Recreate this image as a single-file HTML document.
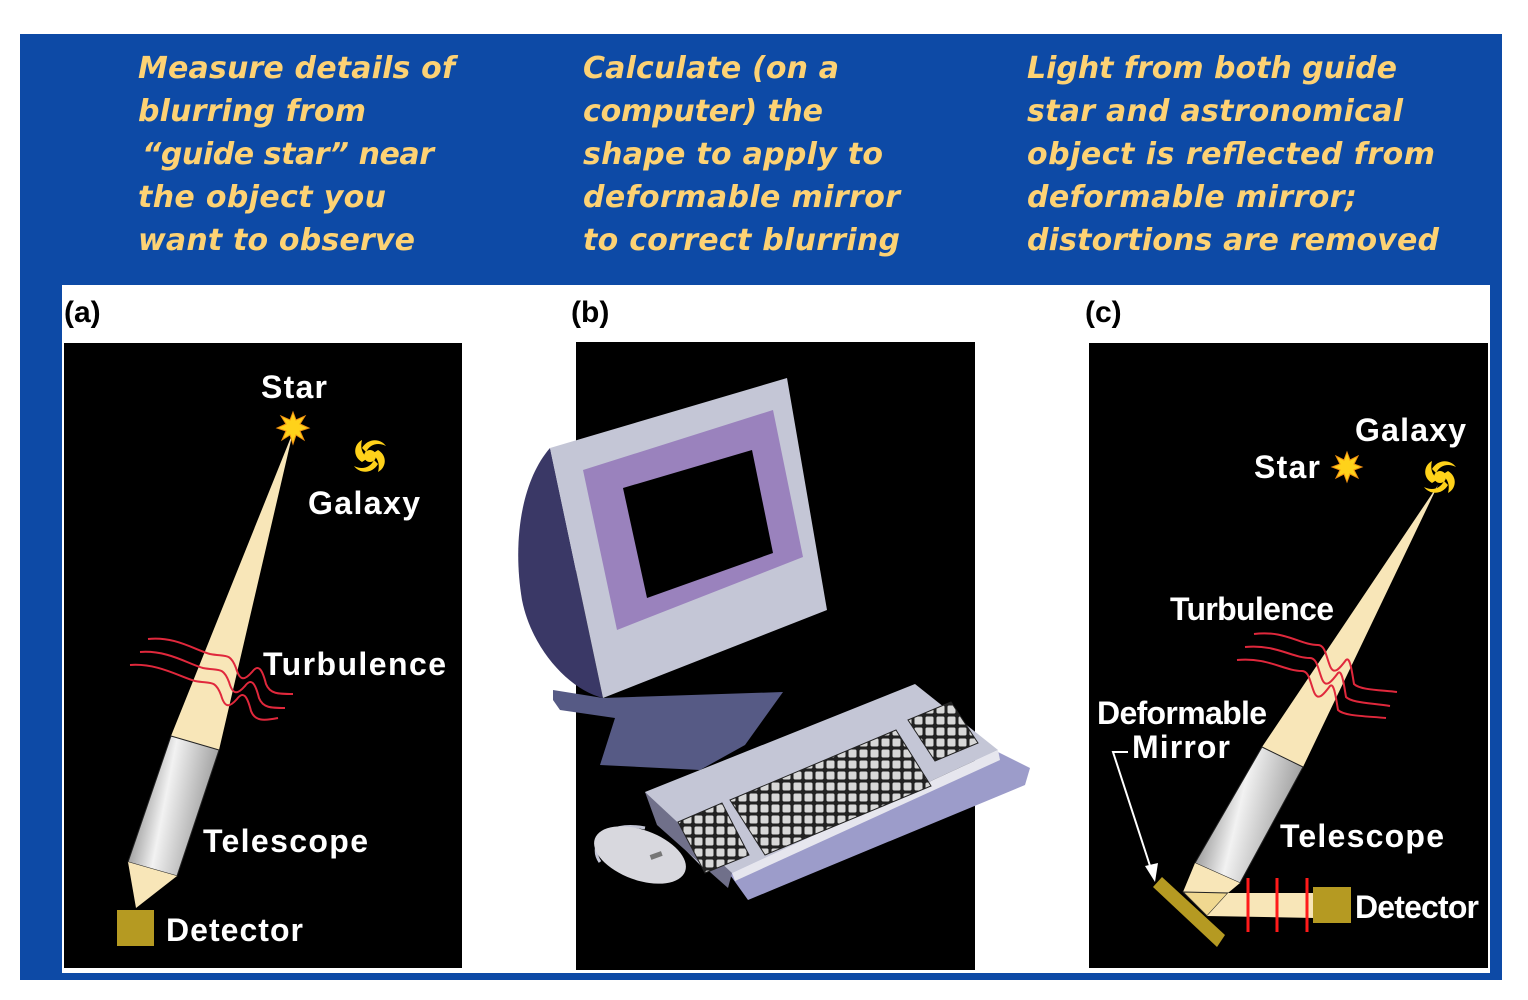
<!DOCTYPE html>
<html><head><meta charset="utf-8"><style>
html,body{margin:0;padding:0;background:#fff;width:1528px;height:1000px;overflow:hidden}
svg{display:block}
.h{font-family:"DejaVu Sans","Liberation Sans",sans-serif;font-weight:bold;font-style:italic;font-size:30px;fill:#fdd274}
.w{font-family:"Liberation Sans",Arial,sans-serif;font-weight:bold;font-size:32px;fill:#fff}
.l{font-family:"Liberation Sans",Arial,sans-serif;font-weight:bold;font-size:30px;fill:#000}
</style></head><body>
<svg width="1528" height="1000" viewBox="0 0 1528 1000" xmlns="http://www.w3.org/2000/svg">
<defs>
<linearGradient id="tube" x1="0" y1="0" x2="1" y2="0.3">
<stop offset="0" stop-color="#555"/><stop offset="0.5" stop-color="#f2f2f2"/><stop offset="1" stop-color="#999"/>
</linearGradient>
<pattern id="keys" width="11" height="11" patternUnits="userSpaceOnUse">
<rect width="11" height="11" fill="#222"/><rect x="1.5" y="1.5" width="8" height="8" rx="1.5" fill="#d8d8d8"/>
</pattern>
</defs>
<rect x="20" y="34" width="1482" height="946" fill="#0d4aa6"/>
<rect x="62" y="285" width="1428" height="688" fill="#fff"/>

<g class="h">
<text x="138" y="78" textLength="317">Measure details of</text>
<text x="138" y="121" textLength="228">blurring from</text>
<text x="142" y="164" textLength="292">“guide star” near</text>
<text x="138" y="207" textLength="248">the object you</text>
<text x="138" y="250" textLength="277">want to observe</text>
<text x="583" y="78" textLength="256">Calculate (on a</text>
<text x="583" y="121" textLength="240">computer) the</text>
<text x="583" y="164" textLength="300">shape to apply to</text>
<text x="583" y="207" textLength="317">deformable mirror</text>
<text x="583" y="250" textLength="317">to correct blurring</text>
<text x="1027" y="78" textLength="370">Light from both guide</text>
<text x="1027" y="121" textLength="376">star and astronomical</text>
<text x="1027" y="164" textLength="408">object is reflected from</text>
<text x="1027" y="207" textLength="330">deformable mirror;</text>
<text x="1027" y="250" textLength="412">distortions are removed</text>
</g>

<text class="l" x="64" y="322">(a)</text>
<text class="l" x="571" y="322">(b)</text>
<text class="l" x="1085" y="322">(c)</text>

<!-- panel a -->
<rect x="64" y="343" width="398" height="625" fill="#000"/>
<polygon points="293,432 171,736 219,750" fill="#f8e6b8"/>
<polygon points="171,736 219,750 177,876 128,862" fill="url(#tube)" stroke="#222" stroke-width="1"/>
<polygon points="128,862 177,876 136,908" fill="#f8e6b8"/>
<rect x="117" y="910" width="37" height="36" fill="#b59a22"/>
<g fill="none" stroke="#e0283c" stroke-width="2">
<path d="M148,639 C175,636 195,650 210,654 C225,657 230,652 236,668 C240,682 245,680 252,672 C258,664 262,668 266,684 C270,694 278,694 293,694"/>
<path d="M140,652 C168,650 188,664 203,668 C218,671 223,666 229,682 C233,696 238,694 245,686 C251,678 255,682 259,698 C263,708 271,708 285,708"/>
<path d="M130,665 C158,663 180,677 195,681 C210,684 215,679 221,695 C225,709 230,707 237,699 C243,691 247,695 251,711 C255,721 263,721 278,718"/>
</g>
<polygon points="293,412 296,420 305,416 300,424 309,428 300,431 304,440 296,435 293,444 290,435 282,440 286,431 277,428 286,424 281,416 290,420" fill="#ffd21a" stroke="#f09010" stroke-width="1"/>
<g fill="#ffd21a"><circle cx="370" cy="456" r="6"/>
<path d="M362,448 C368,438 380,438 386,446 C378,442 370,444 366,452Z"/><path d="M378,464 C372,474 360,474 354,466 C362,470 370,468 374,460Z"/><path d="M378,450 C388,456 386,468 378,472 C380,464 378,458 372,454Z"/><path d="M362,462 C352,456 354,444 362,440 C360,448 362,454 368,458Z"/></g>
<text class="w" x="261" y="398" textLength="66">Star</text>
<text class="w" x="308" y="514" textLength="112">Galaxy</text>
<text class="w" x="263" y="675" textLength="183">Turbulence</text>
<text class="w" x="203" y="852" textLength="165">Telescope</text>
<text class="w" x="166" y="941" textLength="137">Detector</text>

<!-- panel b -->
<rect x="576" y="342" width="399" height="628" fill="#000"/>
<polygon points="553,690 603,698 783,692 745,745 700,770 600,765 615,718 560,710 553,700" fill="#565a85"/>
<path d="M550,448 C522,480 512,540 522,600 C532,650 570,690 603,698 Z" fill="#3a3866"/>
<polygon points="550,448 787,378 827,610 603,698" fill="#c4c6d6"/>
<polygon points="583,470 773,410 803,557 617,630" fill="#9a82bd"/>
<polygon points="623,488 752,450 773,553 647,598" fill="#000"/>
<path d="M645,828 C605,820 588,845 600,862" fill="none" stroke="#c4c6d6" stroke-width="3"/>
<polygon points="728,872 998,752 1030,768 1025,785 748,900" fill="#9c9cca"/>
<polygon points="645,792 915,684 998,750 732,873 705,870 662,826" fill="#c4c6d6"/>
<polygon points="645,792 732,873 728,888 657,825" fill="#70708a"/>
<polygon points="732,873 998,750 1000,760 735,881" fill="#e6e6ee"/>
<polygon points="678,822 722,803 749,855 705,873" fill="url(#keys)" stroke="#222"/>
<polygon points="730,800 896,730 931,786 765,855" fill="url(#keys)" stroke="#222"/>
<polygon points="908,720 951,702 978,743 935,761" fill="url(#keys)" stroke="#222"/>
<ellipse cx="640" cy="855" rx="48" ry="25" transform="rotate(20 640 855)" fill="#d8d8de"/>
<rect x="650" y="853" width="12" height="5" fill="#777" transform="rotate(-20 656 855)"/>

<!-- panel c -->
<rect x="1089" y="343" width="399" height="625" fill="#000"/>
<polygon points="1438,485 1262,747 1303,767" fill="#f8e6b8"/>
<polygon points="1262,747 1303,767 1240,883 1195,863" fill="url(#tube)" stroke="#222" stroke-width="1"/>
<polygon points="1195,863 1240,883 1228,893 1183,892" fill="#f8e6b8"/>
<polygon points="1183,892 1228,893 1207,916" fill="#f0d890" stroke="#222" stroke-width="1"/>
<polygon points="1207,893 1315,893 1315,918 1207,916 1228,893" fill="#f8e6b8"/>
<polygon points="1153,887 1162,877 1225,935 1217,947" fill="#b59a22"/>
<rect x="1313" y="887" width="38" height="36" fill="#b59a22"/>
<g stroke="#ff1a1a" stroke-width="3"><line x1="1248" y1="878" x2="1248" y2="932"/><line x1="1277" y1="878" x2="1277" y2="932"/><line x1="1307" y1="878" x2="1307" y2="932"/></g>
<g fill="none" stroke="#e0283c" stroke-width="2">
<path d="M1254,634 C1285,630 1300,645 1318,645 C1325,645 1326,656 1330,666 C1334,676 1340,668 1346,660 C1350,656 1352,672 1354,684 C1360,690 1380,690 1397,692"/>
<path d="M1245,647 C1276,644 1292,658 1310,658 C1317,658 1318,669 1322,679 C1326,689 1332,681 1338,673 C1342,669 1344,685 1346,697 C1352,703 1372,703 1390,706"/>
<path d="M1237,660 C1268,657 1284,671 1302,671 C1309,671 1310,682 1314,692 C1318,702 1324,694 1330,686 C1334,682 1336,698 1338,710 C1344,716 1364,716 1386,718"/>
</g>
<polygon points="1347,452 1350,460 1358,456 1354,464 1362,467 1354,470 1358,478 1350,474 1347,482 1344,474 1336,478 1340,470 1332,467 1340,464 1336,456 1344,460" fill="#ffd21a" stroke="#f09010" stroke-width="1"/>
<g fill="#ffd21a"><circle cx="1440" cy="477" r="6"/>
<path d="M1432,469 C1438,459 1450,459 1456,467 C1448,463 1440,465 1436,473Z"/><path d="M1448,485 C1442,495 1430,495 1424,487 C1432,491 1440,489 1444,481Z"/><path d="M1448,471 C1458,477 1456,489 1448,493 C1450,485 1448,479 1442,475Z"/><path d="M1432,483 C1422,477 1424,465 1432,461 C1430,469 1432,475 1438,479Z"/></g>
<g fill="none" stroke="#fff" stroke-width="2"><path d="M1128,752 L1113,752 L1152,872"/></g>
<polygon points="1155,882 1145,866 1158,863" fill="#fff"/>
<text class="w" x="1355" y="441" textLength="111">Galaxy</text>
<text class="w" x="1254" y="478" textLength="66">Star</text>
<text class="w" x="1170" y="620" textLength="164">Turbulence</text>
<text class="w" x="1097" y="724" textLength="170">Deformable</text>
<text class="w" x="1132" y="758" textLength="98">Mirror</text>
<text class="w" x="1280" y="847" textLength="164">Telescope</text>
<text class="w" x="1355" y="918" textLength="124">Detector</text>
</svg>
</body></html>
